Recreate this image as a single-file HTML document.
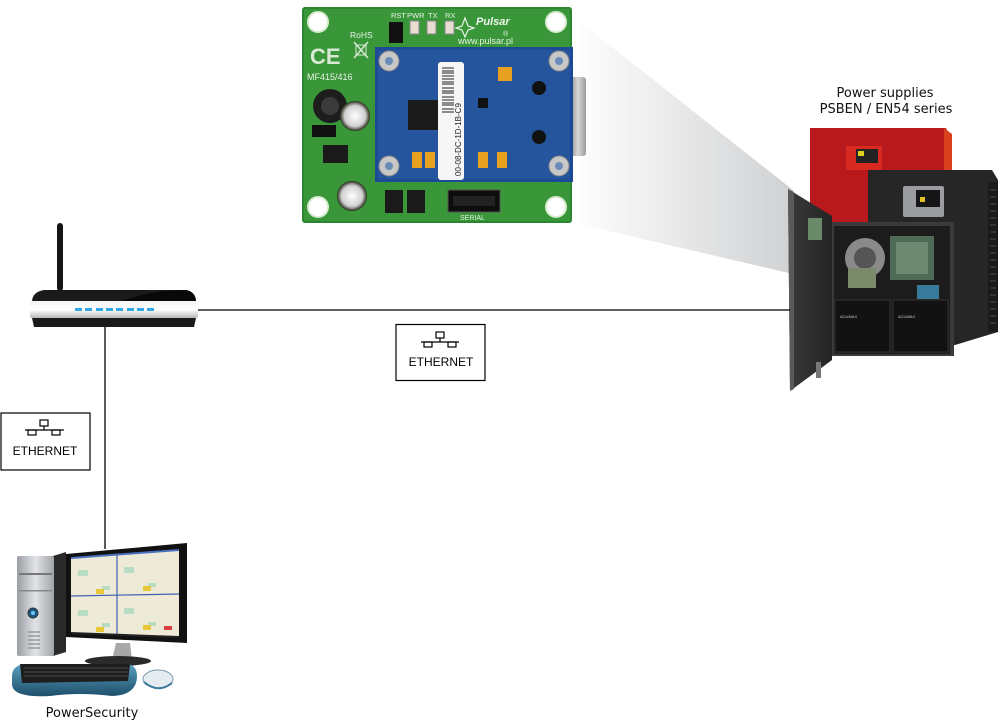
<!DOCTYPE html>
<html><head><meta charset="utf-8"><style>
html,body{margin:0;padding:0;background:#fff;}
svg{display:block;}
.t{font-family:"DejaVu Sans","Liberation Sans",sans-serif;}
.e{font-family:"Liberation Sans",sans-serif;}
</style></head><body>
<svg width="1000" height="726" viewBox="0 0 1000 726" xmlns="http://www.w3.org/2000/svg">
<defs>
<linearGradient id="beam" x1="0" y1="0" x2="1" y2="0">
<stop offset="0" stop-color="#ffffff"/><stop offset="1" stop-color="#cfd1d3"/></linearGradient>
<linearGradient id="silver" x1="0" y1="0" x2="0" y2="1">
<stop offset="0" stop-color="#f4f4f4"/><stop offset="0.5" stop-color="#ffffff"/><stop offset="1" stop-color="#b8b8b8"/></linearGradient>
<linearGradient id="tower" x1="0" y1="0" x2="1" y2="0">
<stop offset="0" stop-color="#9a9ea4"/><stop offset="0.5" stop-color="#e2e4e7"/><stop offset="1" stop-color="#a0a4a8"/></linearGradient>
<linearGradient id="kb" x1="0" y1="0" x2="0" y2="1">
<stop offset="0" stop-color="#5aa0c0"/><stop offset="1" stop-color="#1d4f6a"/></linearGradient>
<linearGradient id="rj" x1="0" y1="0" x2="1" y2="0">
<stop offset="0" stop-color="#8a8a8a"/><stop offset="0.5" stop-color="#d8d8d8"/><stop offset="1" stop-color="#9a9a9a"/></linearGradient>
<linearGradient id="door" x1="0" y1="0" x2="1" y2="0">
<stop offset="0" stop-color="#3a3a3a"/><stop offset="1" stop-color="#242424"/></linearGradient>
<radialGradient id="cap" cx="0.5" cy="0.5" r="0.5">
<stop offset="0" stop-color="#ffffff"/><stop offset="0.7" stop-color="#d0d0d0"/><stop offset="1" stop-color="#2a2a1a"/></radialGradient>
</defs>

<!-- beam -->
<polygon points="570,14 793,190 793,274 570,222" fill="url(#beam)"/>

<!-- PCB -->
<rect x="302" y="7" width="270" height="216" rx="3" fill="#2c8530"/>
<rect x="304" y="9" width="266" height="212" rx="2" fill="#39973a"/>
<g fill="#fff" stroke="#d8ecd0" stroke-width="2">
<circle cx="318" cy="22" r="10"/><circle cx="556" cy="22" r="10"/>
<circle cx="318" cy="207" r="10"/><circle cx="556" cy="207" r="10"/>
</g>
<!-- PCB text -->
<g class="e" fill="#e8f2e4" font-size="7.5">
<text x="391" y="18">RST</text><text x="407" y="18">PWR</text><text x="428" y="18">TX</text><text x="445" y="18">RX</text>
<text x="350" y="38" font-size="8.5">RoHS</text>
<text x="458" y="44" font-size="9">www.pulsar.pl</text>
<text x="307" y="80" font-size="9">MF415/416</text>
<text x="460" y="220" font-size="7">SERIAL</text>
</g>
<text x="476" y="25" class="e" font-size="11" font-weight="bold" font-style="italic" fill="#f0f6ee">Pulsar</text>
<text x="503" y="36" class="e" font-size="7" fill="#e8f2e4">®</text>
<path d="M465,18 L468,26 L474,28 L468,30 L465,37 L462,30 L456,28 L462,26 Z" fill="none" stroke="#e8f2e4" stroke-width="1.2"/>
<text x="310" y="64" class="e" font-size="22" font-weight="bold" fill="#d8e8d4">CE</text>
<path d="M354,42 l14,16 M368,42 l-14,16" stroke="#d8e8d4" stroke-width="1.5"/>
<rect x="356" y="45" width="10" height="10" fill="none" stroke="#d8e8d4"/>
<!-- header & leds -->
<rect x="389" y="22" width="14" height="21" fill="#111"/>
<rect x="410" y="21" width="9" height="13" fill="#e8ddd0" stroke="#888"/>
<rect x="427" y="21" width="9" height="13" fill="#e8ddd0" stroke="#888"/>
<rect x="445" y="21" width="9" height="13" fill="#e8ddd0" stroke="#888"/>
<!-- inductor & caps -->
<circle cx="330" cy="106" r="17" fill="#1d1d1d"/>
<circle cx="330" cy="106" r="9" fill="#3a3a3a"/>
<circle cx="355" cy="116" r="15" fill="url(#cap)"/>
<circle cx="352" cy="196" r="15" fill="url(#cap)"/>
<rect x="312" y="125" width="24" height="12" fill="#111"/>
<rect x="323" y="145" width="25" height="18" fill="#1a1a1a"/>
<rect x="385" y="190" width="18" height="23" fill="#1a1a1a"/>
<rect x="407" y="190" width="18" height="23" fill="#1a1a1a"/>
<rect x="448" y="190" width="52" height="22" fill="#0d0d0d" stroke="#555"/>
<rect x="453" y="196" width="42" height="10" fill="#222"/>
<!-- RJ45 -->
<rect x="570" y="77" width="16" height="79" rx="3" fill="url(#rj)"/>
<!-- blue module -->
<rect x="375" y="47" width="198" height="135" fill="#1d4a96"/>
<rect x="378" y="50" width="192" height="129" fill="#24559d"/>
<g fill="#c8c8c8" stroke="#888">
<circle cx="389" cy="61" r="10"/><circle cx="559" cy="61" r="10"/>
<circle cx="389" cy="166" r="10"/><circle cx="559" cy="166" r="10"/>
</g>
<g fill="#6b8bb8"><circle cx="389" cy="61" r="4"/><circle cx="559" cy="61" r="4"/><circle cx="389" cy="166" r="4"/><circle cx="559" cy="166" r="4"/></g>
<circle cx="539" cy="88" r="7" fill="#111"/><circle cx="539" cy="137" r="7" fill="#111"/>
<rect x="408" y="100" width="30" height="30" fill="#1a1a1a"/>
<rect x="498" y="67" width="14" height="14" fill="#e8a020"/>
<rect x="412" y="152" width="10" height="16" fill="#e8a020"/>
<rect x="425" y="152" width="10" height="16" fill="#e8a020"/>
<rect x="478" y="152" width="10" height="16" fill="#e8a020"/>
<rect x="497" y="152" width="10" height="16" fill="#e8a020"/>
<rect x="478" y="98" width="10" height="10" fill="#111"/>
<!-- label -->
<rect x="438" y="62" width="26" height="118" rx="3" fill="#f6f6f6"/>
<g stroke="#222" stroke-width="1">
<path d="M442,68 h12 M442,71 h12 M442,73 h12 M442,76 h12 M442,79 h12 M442,82 h12 M442,84 h12 M442,88 h12 M442,91 h12 M442,93 h12 M442,97 h12 M442,100 h12 M442,103 h12 M442,105 h12 M442,109 h12 M442,112 h12"/>
</g>
<text class="e" font-size="8" fill="#222" transform="translate(461,176) rotate(-90)">00-08-DC-1D-1B-C9</text>

<!-- Power supplies text -->
<text x="885" y="97" class="t" font-size="13" text-anchor="middle" fill="#111">Power supplies</text>
<text x="886" y="113" class="t" font-size="13" text-anchor="middle" fill="#111">PSBEN / EN54 series</text>

<!-- red box -->
<polygon points="810,128 946,128 952,142 952,240 810,240" fill="#b7191d"/>
<polygon points="944,128 952,134 952,240 944,240" fill="#d8401e"/>
<rect x="846" y="146" width="36" height="24" fill="#d82a20"/>
<rect x="856" y="149" width="22" height="14" fill="#222"/>
<rect x="858" y="151" width="6" height="5" fill="#e0d020"/>
<!-- black box -->
<polygon points="868,170 992,170 998,180 998,332 955,345 868,345" fill="#262626"/>
<rect x="988" y="182" width="10" height="150" fill="#1a1a1a"/>
<g stroke="#444" stroke-width="1.2"><path d="M990,190 h6 M990,197 h6 M990,204 h6 M990,211 h6 M990,218 h6 M990,225 h6 M990,232 h6 M990,239 h6 M990,246 h6 M990,253 h6 M990,260 h6 M990,267 h6 M990,274 h6 M990,281 h6 M990,288 h6 M990,295 h6 M990,302 h6 M990,309 h6 M990,316 h6 M990,323 h6"/></g>
<rect x="903" y="186" width="41" height="31" rx="2" fill="#9a9ca0"/>
<rect x="916" y="190" width="24" height="17" fill="#161616"/>
<rect x="920" y="197" width="5" height="5" fill="#e0c020"/>
<!-- cabinet interior -->
<rect x="830" y="222" width="124" height="134" fill="#3a3a3a"/>
<rect x="834" y="226" width="116" height="128" fill="#1c1c1c"/>
<circle cx="865" cy="258" r="20" fill="#8a8a8a"/>
<circle cx="865" cy="258" r="11" fill="#555"/>
<rect x="890" y="236" width="44" height="44" fill="#4f6a55"/>
<rect x="896" y="242" width="32" height="32" fill="#6f8a72"/>
<rect x="848" y="268" width="28" height="20" fill="#7a8a6a"/>
<rect x="917" y="285" width="22" height="14" fill="#3a7a9a"/>
<rect x="835" y="300" width="55" height="52" fill="#121212" stroke="#333"/>
<rect x="893" y="300" width="55" height="52" fill="#121212" stroke="#333"/>
<g class="e" font-size="4" fill="#ccc"><text x="840" y="318">ACUMAX</text><text x="898" y="318">ACUMAX</text></g>
<!-- door -->
<polygon points="788,189 832,216 832,360 790,391" fill="url(#door)"/>
<polygon points="788,189 794,192 794,389 790,391" fill="#5a5a5a"/>
<rect x="808" y="218" width="14" height="22" fill="#6a8a6a"/>
<rect x="816" y="362" width="5" height="16" fill="#777"/>

<!-- connectors -->
<line x1="196" y1="310" x2="790" y2="310" stroke="#000" stroke-width="1.3"/>
<line x1="105" y1="326" x2="105" y2="549" stroke="#000" stroke-width="1.3"/>

<!-- router -->
<rect x="57" y="223" width="6" height="68" rx="3" fill="#151515"/>
<path d="M32,302 Q32,292 44,290 L186,290 Q196,292 196,302 Z" fill="#1a1a1a"/>
<path d="M120,302 Q150,290 186,290 Q196,292 196,302 Z" fill="#080808"/>
<rect x="30" y="301" width="168" height="17" rx="2" fill="url(#silver)"/>
<path d="M32,318 L196,318 L194,327 L34,327 Z" fill="#1a1a1a"/>
<g fill="#2ea8e8">
<rect x="75" y="308" width="7" height="3"/><rect x="85" y="308" width="7" height="3"/><rect x="96" y="308" width="7" height="3"/><rect x="106" y="308" width="7" height="3"/><rect x="116" y="308" width="7" height="3"/><rect x="127" y="308" width="7" height="3"/><rect x="137" y="308" width="7" height="3"/><rect x="147" y="308" width="7" height="3"/>
</g>

<!-- ethernet boxes -->
<g>
<rect x="396" y="324.5" width="89" height="56" fill="#fff" stroke="#000" stroke-width="1.2"/>
<g fill="none" stroke="#000" stroke-width="1.2">
<rect x="436" y="332" width="8" height="6"/>
<line x1="440" y1="338" x2="440" y2="342"/>
<line x1="421" y1="342" x2="459" y2="342"/>
<rect x="424" y="342" width="8" height="5"/><rect x="448" y="342" width="8" height="5"/>
</g>
<text x="441" y="366" class="e" font-size="12" text-anchor="middle" fill="#000">ETHERNET</text>
</g>
<g>
<rect x="1" y="413" width="89" height="57" fill="#fff" stroke="#000" stroke-width="1.2"/>
<g fill="none" stroke="#000" stroke-width="1.2">
<rect x="40" y="420" width="8" height="6"/>
<line x1="44" y1="426" x2="44" y2="430"/>
<line x1="25" y1="430" x2="64" y2="430"/>
<rect x="28" y="430" width="8" height="5"/><rect x="52" y="430" width="8" height="5"/>
</g>
<text x="45" y="455" class="e" font-size="12" text-anchor="middle" fill="#000">ETHERNET</text>
</g>

<!-- computer tower -->
<polygon points="53,556 66,552 66,652 53,656" fill="#2a2a2a"/>
<rect x="17" y="556" width="37" height="100" rx="2" fill="url(#tower)"/>
<rect x="19" y="573" width="33" height="2" fill="#777"/>
<rect x="19" y="590" width="33" height="1.5" fill="#888"/>
<circle cx="33" cy="613" r="5" fill="#1a5a8a" stroke="#333"/>
<circle cx="33" cy="613" r="2" fill="#6ac8f0"/>
<g stroke="#777" stroke-width="1"><path d="M28,632 h12 M28,636 h12 M28,640 h12 M28,644 h12 M28,648 h12"/></g>
<!-- monitor -->
<polygon points="66,554 187,543 187,643 66,637" fill="#111"/>
<polygon points="71,558 179,550 179,637 71,633" fill="#eeead8"/>
<line x1="71" y1="596" x2="179" y2="594" stroke="#4060b0" stroke-width="1.2"/>
<line x1="117" y1="555" x2="117" y2="635" stroke="#4060b0" stroke-width="1.2"/>
<line x1="71" y1="558" x2="179" y2="550" stroke="#4a70c0" stroke-width="2"/>
<line x1="71" y1="633" x2="179" y2="637" stroke="#222" stroke-width="2"/>
<g fill="#b8dcc4">
<rect x="78" y="570" width="10" height="6"/><rect x="124" y="567" width="10" height="6"/>
<rect x="78" y="610" width="10" height="6"/><rect x="124" y="608" width="10" height="6"/>
<rect x="102" y="586" width="8" height="4"/><rect x="148" y="583" width="8" height="4"/>
<rect x="102" y="623" width="8" height="4"/><rect x="148" y="622" width="8" height="4"/>
</g>
<g fill="#e8c838"><rect x="96" y="589" width="8" height="5"/><rect x="143" y="586" width="8" height="5"/><rect x="96" y="627" width="8" height="5"/><rect x="143" y="625" width="8" height="5"/></g>
<rect x="164" y="626" width="8" height="4" fill="#d84040"/>
<!-- stand -->
<polygon points="116,643 130,643 132,660 112,660" fill="#a8a8a8"/>
<ellipse cx="118" cy="661" rx="33" ry="5" fill="#2a2a2a"/>
<!-- keyboard -->
<path d="M12,676 Q12,666 24,664 L128,664 Q137,666 137,676 Q137,695 112,696 Q80,692 50,696 Q12,698 12,684 Z" fill="url(#kb)"/>
<polygon points="20,664 130,664 128,681 22,683" fill="#1e1e1e"/>
<g stroke="#555" stroke-width="0.8"><path d="M24,668 h104 M24,672 h104 M24,676 h104"/></g>
<!-- mouse -->
<ellipse cx="158" cy="679" rx="15" ry="9" fill="#e4ecf2" stroke="#7a9ab0"/>
<path d="M144,682 Q158,694 172,683" fill="none" stroke="#3a7a9a" stroke-width="2"/>

<text x="92" y="717" class="t" font-size="13" text-anchor="middle" fill="#111">PowerSecurity</text>
</svg>
</body></html>
